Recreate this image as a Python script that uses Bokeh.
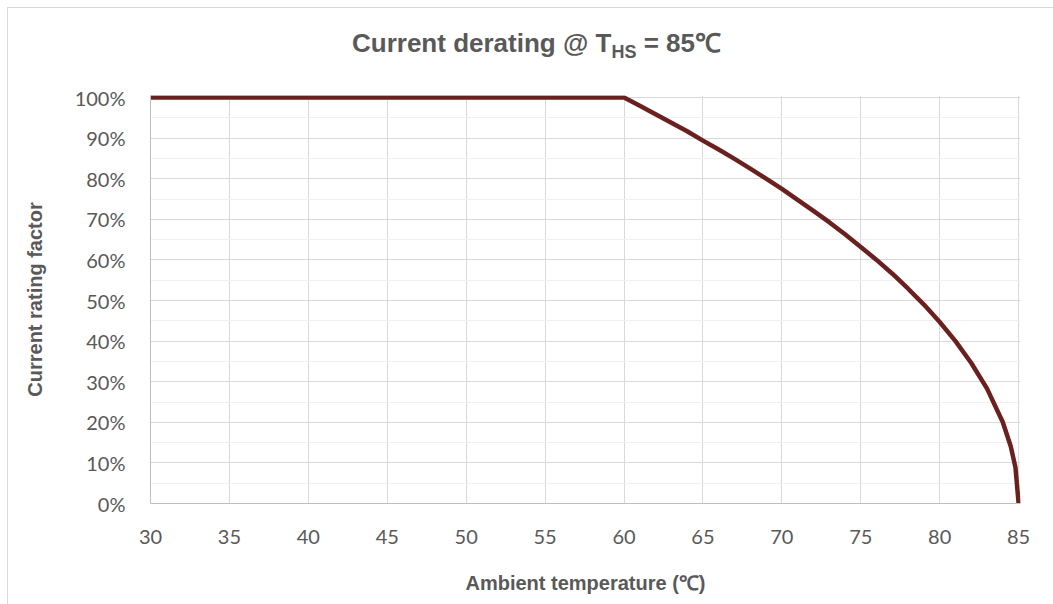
from bokeh.plotting import figure
from bokeh.models import FixedTicker, NumeralTickFormatter, Range1d, Div
from bokeh.layouts import column
from bokeh.embed import file_html
from bokeh.resources import INLINE

temperature_c = [30, 35, 40, 45, 50, 55, 60, 61, 62, 63, 64, 65, 66, 67, 68, 69, 70,
                 71, 72, 73, 74, 75, 76, 77, 78, 79, 80, 81, 82, 83, 84, 84.5, 84.8, 85]
rating_factor = [1.0, 1.0, 1.0, 1.0, 1.0, 1.0, 1.0, 0.98, 0.959, 0.938, 0.917, 0.894,
                 0.872, 0.849, 0.825, 0.80, 0.775, 0.748, 0.721, 0.693, 0.663, 0.632,
                 0.60, 0.566, 0.529, 0.49, 0.447, 0.40, 0.346, 0.283, 0.20, 0.141,
                 0.089, 0.0]
x_ticks = [30, 35, 40, 45, 50, 55, 60, 65, 70, 75, 80, 85]
y_ticks = [0.0, 0.1, 0.2, 0.3, 0.4, 0.5, 0.6, 0.7, 0.8, 0.9, 1.0]
y_minor = [0.05, 0.15, 0.25, 0.35, 0.45, 0.55, 0.65, 0.75, 0.85, 0.95]

title_main = "Current derating @ T"
title_sub = "HS"
title_end = " = 85\u2103"
x_title = "Ambient temperature (\u2103)"
y_title = "Current rating factor"

TXT = "#595959"
TITLE_H = 70

title_div = Div(
    text=('<div style="display:block;box-sizing:border-box;width:1045px;'
          'font-family:\'Liberation Sans\';font-weight:bold;font-size:26px;'
          'line-height:30px;color:%s;text-align:center;padding-top:20px;padding-left:12px;'
          'white-space:nowrap;">%s<span style="font-size:18px;vertical-align:-6px;">%s</span>%s</div>')
         % (TXT, title_main, title_sub, title_end),
    width=1045, height=TITLE_H, margin=0)

p = figure(width=1045, height=596 - TITLE_H, output_backend="svg", toolbar_location=None,
           x_range=Range1d(30, 85.12), y_range=Range1d(0, 1.005),
           min_border_left=142, min_border_right=33, min_border_top=87 - TITLE_H,
           min_border_bottom=101)
p.margin = 0
p.outline_line_color = None

p.xaxis.ticker = FixedTicker(ticks=x_ticks)
p.yaxis.ticker = FixedTicker(ticks=y_ticks, minor_ticks=y_minor)
p.yaxis.formatter = NumeralTickFormatter(format="0%")
for ax in (p.xaxis, p.yaxis):
    ax.axis_line_color = "#bfbfbf"
    ax.major_tick_line_color = None
    ax.minor_tick_line_color = None
    ax.major_label_text_font = "Lato"
    ax.major_label_text_font_size = "20px"
    ax.major_label_text_color = TXT
    ax.axis_label_text_font = "Liberation Sans"
    ax.axis_label_text_font_style = "bold"
    ax.axis_label_text_font_size = "20px"
    ax.axis_label_text_color = TXT
p.xaxis.major_label_standoff = 20
p.yaxis.major_label_standoff = 19
p.xaxis.axis_label = x_title
p.yaxis.axis_label = y_title
p.xaxis.axis_label_standoff = 25
p.yaxis.axis_label_standoff = 26

p.xgrid.grid_line_color = "#d9d9d9"
p.ygrid.grid_line_color = "#d9d9d9"
p.ygrid.minor_grid_line_color = "#f0f0f0"

p.line(temperature_c, rating_factor, line_color="#6B2020", line_width=4.5, line_join="round")

layout = column(title_div, p, spacing=0)
layout.styles = {"margin-left": "7px", "margin-top": "7px",
                 "border-left": "1px solid #d9d9d9", "border-top": "1px solid #d9d9d9"}

open("out.html", "w").write(file_html(layout, INLINE))
